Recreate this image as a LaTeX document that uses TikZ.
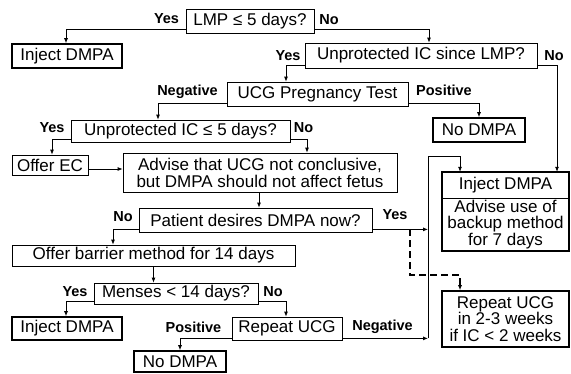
\documentclass[tikz,border=0pt]{standalone}
\usepackage{fontspec}
\setmainfont{Liberation Sans}
\usetikzlibrary{arrows.meta,calc}
\tikzset{
  box/.style={draw, line width=0.8pt, inner sep=0pt, align=center, font=\fontsize{17}{17}\selectfont},
  term/.style={box, line width=1.6pt},
  plain/.style={inner sep=0pt, align=center, font=\fontsize{17}{16.5}\selectfont},
  lbl/.style={inner sep=0pt, font=\bfseries\fontsize{14.5}{16}\selectfont},
  arr/.style={line width=0.8pt, -{Latex[length=5pt,width=4pt]}},
  darr/.style={line width=1.5pt, dash pattern=on 7pt off 4pt, -{Latex[length=5pt,width=4pt]}},
}
\begin{document}
\begin{tikzpicture}[x=1pt,y=-1pt]
\fill[white] (0,0) rectangle (571,373);
\useasboundingbox (0,0) rectangle (571,373);

% nodes
\node[box, minimum width=128pt, minimum height=24pt] (q1) at (250,21) {LMP ≤ 5 days?};
\node[term, minimum width=110pt, minimum height=24pt] (inj1) at (67,56) {Inject DMPA};
\node[box, minimum width=232pt, minimum height=25pt] (q2) at (421,55.5) {Unprotected IC since LMP?};
\node[box, minimum width=181pt, minimum height=24pt] (ucg) at (317.5,94) {UCG Pregnancy Test};
\node[term, minimum width=92pt, minimum height=24pt] (nod1) at (479,130) {No DMPA};
\node[box, minimum width=219pt, minimum height=22pt] (q3) at (180.5,131) {Unprotected IC ≤ 5 days?};
\node[box, minimum width=76pt, minimum height=20pt] (oec) at (50,165) {Offer EC};
\node[box, minimum width=274pt, minimum height=39pt] (adv) at (260,172.5) {Advise that UCG not conclusive,\\but DMPA should not affect fetus};
\node[box, minimum width=233pt, minimum height=24pt] (q4) at (255.5,220) {Patient desires DMPA now?};
\node[plain, minimum width=127pt, minimum height=26pt] (injRa) at (505.5,185) {Inject DMPA};
\node[plain, minimum width=127pt, minimum height=53pt] (injRb) at (505.5,224.5) {Advise use of\\backup method\\for 7 days};
\node[term, minimum width=127pt, minimum height=56pt, font=\fontsize{17}{16.5}\selectfont] (repR) at (505.5,319) {Repeat UCG\\in 2-3 weeks\\if IC < 2 weeks};
\node[box, minimum width=283pt, minimum height=21pt] (bar) at (153.5,255.5) {Offer barrier method for 14 days};
\node[box, minimum width=164pt, minimum height=21pt] (men) at (176,293.5) {Menses < 14 days?};
\node[term, minimum width=110pt, minimum height=23pt] (inj2) at (67,328.5) {Inject DMPA};
\node[box, minimum width=110pt, minimum height=23pt] (rep) at (287,328.5) {Repeat UCG};
\node[term, minimum width=92pt, minimum height=21pt] (nod2) at (180,361.5) {No DMPA};

\draw[line width=1.6pt] (injRa.north west) rectangle (injRb.south east);
\draw[line width=0.8pt] (injRa.south west) -- (injRa.south east);

% labels
\node[lbl] (l1) at (166.5,19) {Yes};
\node[lbl] (l2) at (329,20) {No};
\node[lbl] (l3) at (288,56) {Yes};
\node[lbl] (l4) at (554,56) {No};
\node[lbl] (l5) at (187.5,92) {Negative};
\node[lbl] (l6) at (444,90) {Positive};
\node[lbl] (l7) at (52,128) {Yes};
\node[lbl] (l8) at (303.5,128) {No};
\node[lbl] (l9) at (123,217) {No};
\node[lbl] (l10) at (395,215) {Yes};
\node[lbl] (l11) at (75,292) {Yes};
\node[lbl] (l12) at (273,292) {No};
\node[lbl] (l13) at (193.5,327) {Positive};
\node[lbl] (l14) at (382.5,327) {Negative};

% helper coordinates
\coordinate (vtop) at (428,156);
\coordinate (dsplit) at (410,229);
\coordinate (dturn) at (460,275);

% connectors
\draw[arr] ([yshift=4pt]q1.south west) -| ([xshift=-1pt]inj1.north);
\draw[arr] ([yshift=4pt]q1.south east) -| ([xshift=8pt]q2.north);
\draw[arr] ([yshift=3.5pt]q2.south west) -| ([xshift=-31.5pt]ucg.north);
\draw[arr] ([yshift=3.5pt]q2.south east) -| ([xshift=51.5pt]injRa.north);
\draw[arr] ([yshift=3pt]ucg.south west) -| ([xshift=-22.5pt]q3.north);
\draw[arr] ([yshift=3pt]ucg.south east) -| (nod1.north);
\draw[arr] ([yshift=3pt]q3.south west) -| ([xshift=2pt]oec.north);
\draw[arr] ([yshift=3pt]q3.south east) -| ([xshift=47pt]adv.north);
\draw[arr] ([yshift=-4pt]oec.east) -- ([yshift=-4pt]oec.east -| adv.west);
\draw[arr] ([xshift=-1pt]adv.south) -- ([xshift=-1pt]adv.south |- q4.north);
\draw[arr] ([yshift=3pt]q4.south west) -| ([xshift=-40.5pt]bar.north);
\draw[arr] ([yshift=3pt]q4.south east) -- ([yshift=3pt]q4.south east -| vtop);
\draw[arr] ([yshift=2pt]rep.south east) -- ([yshift=2pt]rep.south east -| vtop);
\draw[arr] ([yshift=2pt]rep.south east -| vtop) -- (vtop) -| ([xshift=-45.5pt]injRa.north);
\draw[darr] (dsplit) |- (dturn) -- (dturn |- repR.north);
\draw[arr] (bar.south) -- (bar.south |- men.north);
\draw[arr] ([yshift=3pt]men.south west) -| ([xshift=-1pt]inj2.north);
\draw[arr] ([yshift=3pt]men.south east) -| ([xshift=-1pt]rep.north);
\draw[arr] ([yshift=2pt]rep.south west) -| (nod2.north);
\end{tikzpicture}
\end{document}
